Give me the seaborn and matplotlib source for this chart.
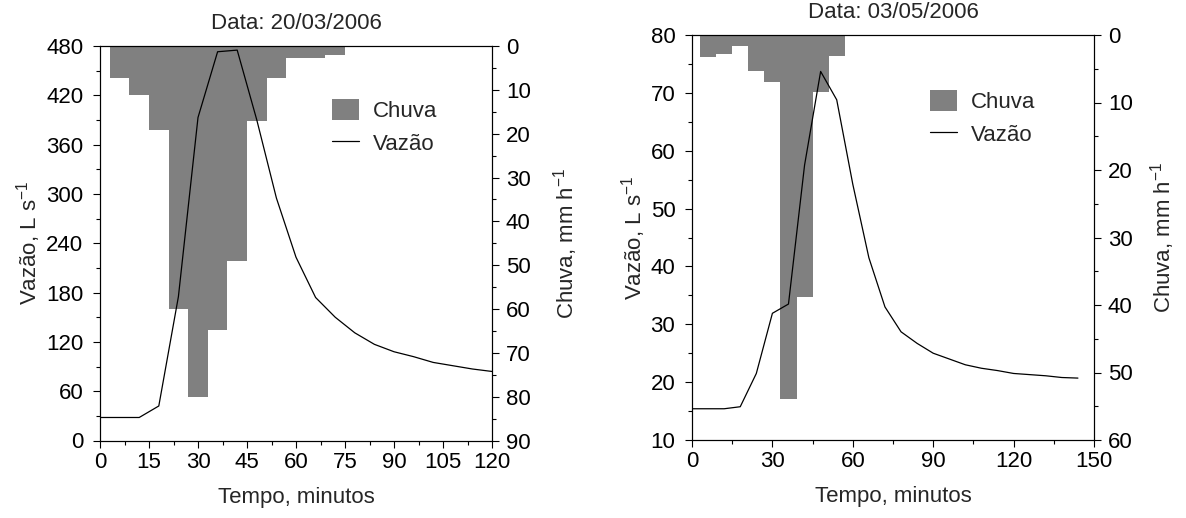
import numpy as np
import pandas as pd
import matplotlib
matplotlib.use("Agg")
import matplotlib.pyplot as plt
import seaborn as sns
from matplotlib.patches import Patch
from matplotlib.lines import Line2D
from matplotlib.ticker import MultipleLocator

# ---------------- data ----------------
# Event 1: 20/03/2006
tempo_1 = [0, 6, 12, 18, 24, 30, 36, 42, 48, 54, 60, 66, 72, 78, 84, 90, 96, 102, 108, 114, 120]
vazao_1 = [28, 28, 28, 42, 175, 393, 473, 475, 390, 295, 223, 174, 150, 131, 117, 108, 102, 95, 91, 87, 84]
chuva_ini_1 = [3, 9, 15, 21, 27, 33, 39, 45, 51, 57, 63, 69]
chuva_1 = [7.3, 11.2, 19.1, 59.9, 80.0, 64.9, 49.0, 17.0, 7.2, 2.7, 2.7, 2.05]

# Event 2: 03/05/2006
tempo_2 = [0, 6, 12, 18, 24, 30, 36, 42, 48, 54, 60, 66, 72, 78, 84, 90, 96, 102, 108,
           114, 120, 126, 132, 138, 144]
vazao_2 = [15.4, 15.4, 15.4, 15.75, 21.5, 31.9, 33.5, 57.5, 73.7, 68.8, 54.2, 41.5, 33.0,
           28.7, 26.7, 25.0, 24.0, 23.0, 22.4, 22.0, 21.5, 21.3, 21.1, 20.8, 20.7]
chuva_ini_2 = [3, 9, 15, 21, 27, 33, 39, 45, 51]
chuva_2 = [3.2, 2.8, 1.6, 5.3, 6.9, 53.9, 38.8, 8.4, 3.1]

intervalo = 6  # minutes per rain bar
titulos = ["Data: 20/03/2006", "Data: 03/05/2006"]

# ---------------- style ----------------
sns.set_theme(style="ticks")
plt.rcParams["font.family"] = ["Liberation Sans", "DejaVu Sans"]
plt.rcParams["mathtext.fontset"] = "custom"
plt.rcParams["mathtext.rm"] = "Liberation Sans"
plt.rcParams["mathtext.it"] = "Liberation Sans:italic"
FS = 16
GRAY = "#808080"

fig = plt.figure(figsize=(11.86, 5.18), dpi=100)
W, H = 1186, 518
ax_a = fig.add_axes([100 / W, 77.5 / H, 392 / W, 394.5 / H])
ax_b = fig.add_axes([692 / W, 78 / H, 402 / W, 405 / H])


def painel(ax, tempo, vazao, ini, chuva, titulo, xlim, xmaj, xmin_, ylim, ymaj, ymin_,
           cmax, rpad):
    ax2 = ax.twinx()
    ax2.bar(ini, chuva, width=intervalo, align="edge", color=GRAY, linewidth=0)
    ax2.set_ylim(cmax, 0)
    df = pd.DataFrame({"Tempo": tempo, "Vazao": vazao})
    sns.lineplot(data=df, x="Tempo", y="Vazao", ax=ax, color="black", linewidth=0.9)
    ax.set_zorder(ax2.get_zorder() + 1)
    ax.patch.set_visible(False)

    ax.set_xlim(*xlim)
    ax.set_ylim(*ylim)
    ax.xaxis.set_major_locator(MultipleLocator(xmaj))
    ax.xaxis.set_minor_locator(MultipleLocator(xmin_))
    ax.yaxis.set_major_locator(MultipleLocator(ymaj))
    ax.yaxis.set_minor_locator(MultipleLocator(ymin_))
    ax2.yaxis.set_major_locator(MultipleLocator(10))
    ax2.yaxis.set_minor_locator(MultipleLocator(5))

    for a in (ax, ax2):
        a.tick_params(which="major", direction="out", length=5, width=0.8,
                      labelsize=FS, colors="black", pad=3)
        a.tick_params(which="minor", direction="out", length=3, width=0.8, colors="black")
        for s in a.spines.values():
            s.set_linewidth(0.8)
            s.set_color("black")
    ax.tick_params(which="both", top=False, right=False)
    ax.tick_params(axis="y", which="major", pad=7)
    ax2.tick_params(axis="y", which="major", pad=5)

    ax.set_xlabel("Tempo, minutos", fontsize=FS, labelpad=10)
    ax.set_ylabel("Vazão, L s$^{\\mathregular{-1}}$", fontsize=FS, labelpad=2)
    ax2.set_ylabel("Chuva, mm h$^{\\mathregular{-1}}$", fontsize=FS, labelpad=rpad)
    ax.set_title(titulo, fontsize=FS, pad=12.5)

    handles = [Patch(facecolor=GRAY, edgecolor="none", label="Chuva"),
               Line2D([], [], color="black", linewidth=0.9, label="Vazão")]
    ax.legend(handles=handles, loc="upper left", bbox_to_anchor=(0.592, 0.865),
              frameon=False, fontsize=FS, handlelength=1.2, handleheight=1.08,
              handletextpad=0.62, labelspacing=0.45, borderpad=0, borderaxespad=0)


painel(ax_a, tempo_1, vazao_1, chuva_ini_1, chuva_1, titulos[0],
       (0, 120), 15, 7.5, (0, 480), 60, 30, 90, 15)
painel(ax_b, tempo_2, vazao_2, chuva_ini_2, chuva_2, titulos[1],
       (0, 150), 30, 15, (10, 80), 10, 5, 60, 11)

fig.savefig("out.png", dpi=100)
